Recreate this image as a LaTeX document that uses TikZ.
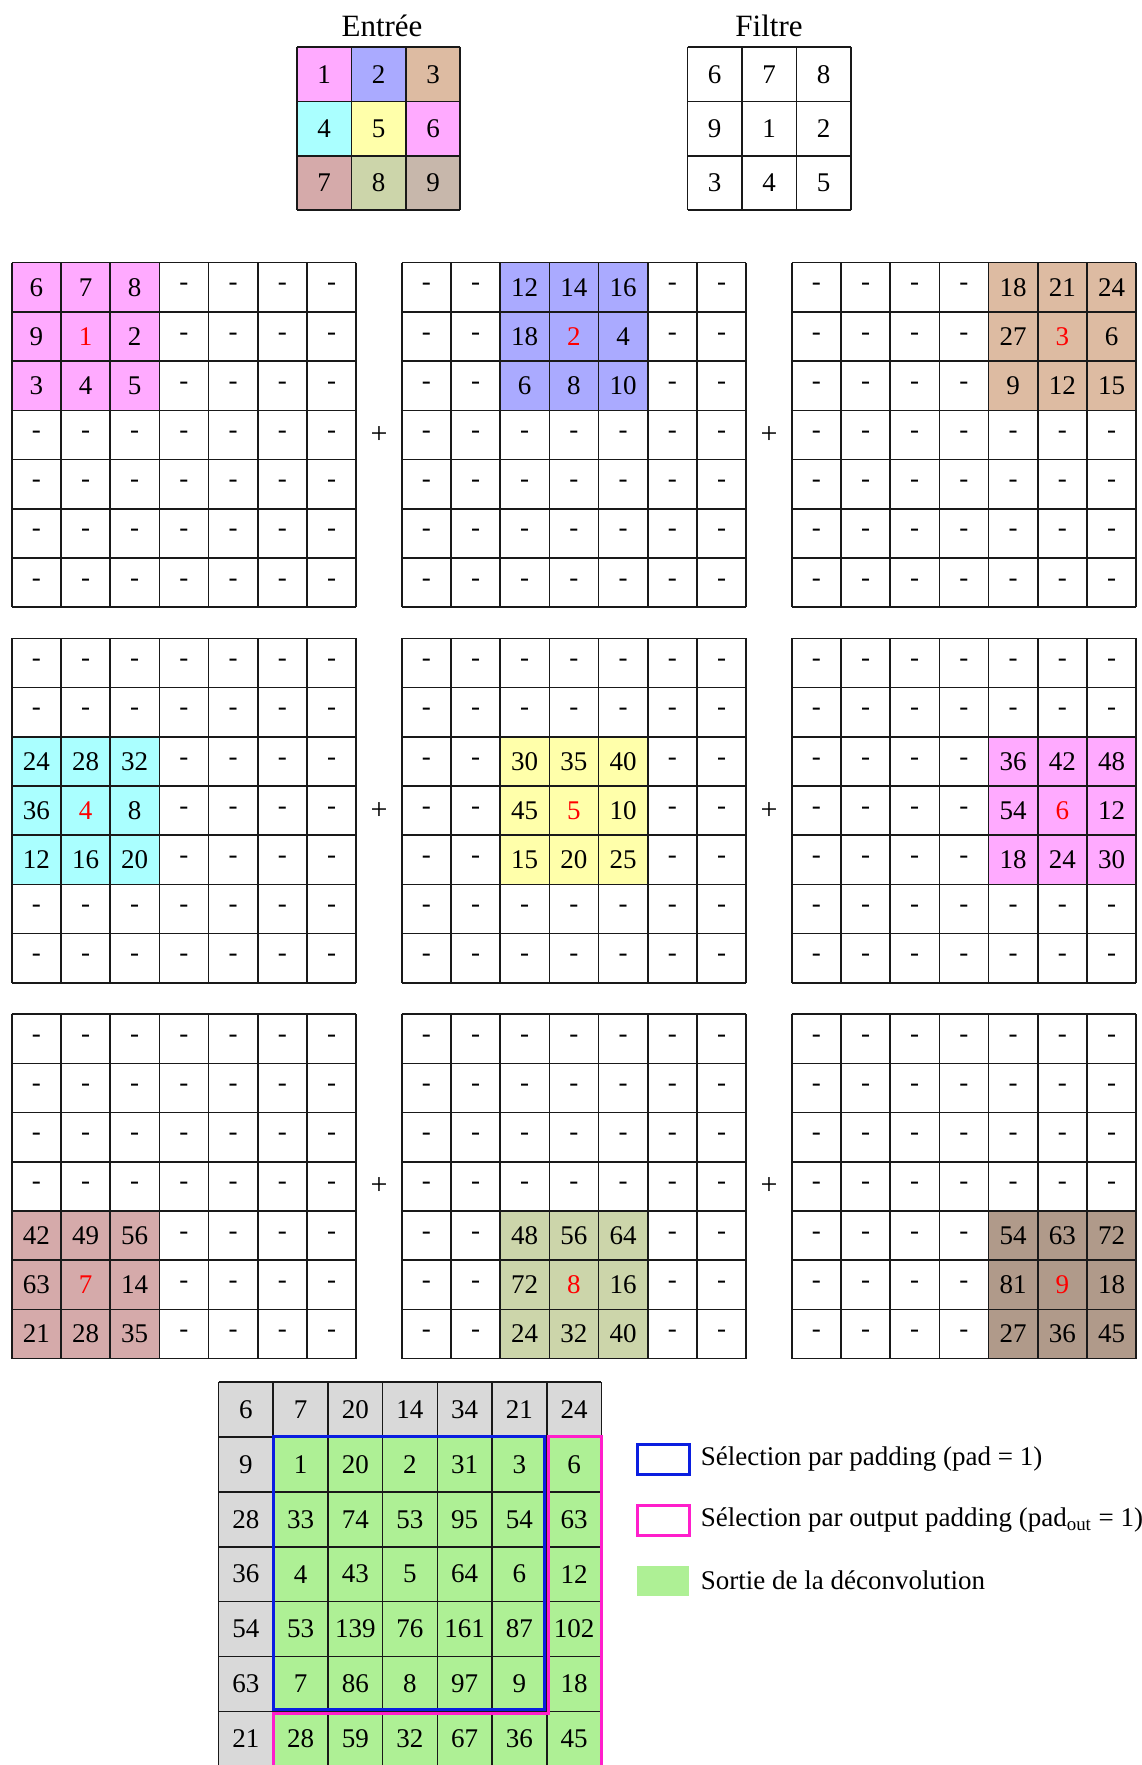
\documentclass[tikz,border=0pt]{standalone}
\usepackage{fontspec}
\setmainfont{Liberation Serif}
\usetikzlibrary{positioning}

\definecolor{rosePale}{HTML}{FFAAFF}
\definecolor{bleuPale}{HTML}{AAAAFF}
\definecolor{beige}{HTML}{DDBBA2}
\definecolor{cyanPale}{HTML}{AAFFFF}
\definecolor{jaunePale}{HTML}{FFFFAA}
\definecolor{vieuxRose}{HTML}{D5AAAA}
\definecolor{sauge}{HTML}{CCD5AA}
\definecolor{taupe}{HTML}{C7B7AB}
\definecolor{taupeFonce}{HTML}{B09A8A}
\definecolor{vertSortie}{HTML}{AEF095}
\definecolor{grisBord}{HTML}{D9D9D9}
\definecolor{bleuPad}{HTML}{0A1EE0}
\definecolor{rosePad}{HTML}{FF1ECB}

\tikzset{
  trait/.style={line width=0.8pt,draw=black!90},
  num/.style={font=\fontsize{13.5}{16}\selectfont,inner sep=0pt},
  titre/.style={font=\fontsize{15.5}{18}\selectfont,inner sep=0pt,anchor=base},
  legende/.style={font=\fontsize{13.5}{16}\selectfont,inner sep=0pt},
  boite/.style={minimum width=26pt,minimum height=15pt,inner sep=0pt,line width=1.5pt}
}

\begin{document}
\begin{tikzpicture}[x=0.5pt,y=-0.5pt]
  \useasboundingbox (0,0) rectangle (1141,1765);

  % entree et filtre
  \def\s{54.4}
  \node[titre] (tEntree) at (382,37) {Entrée};
  \node[titre] (tFiltre) at (769,37) {Filtre};
  \foreach \v/\col [count=\i from 0] in {1/rosePale,2/bleuPale,3/beige,4/cyanPale,5/jaunePale,6/rosePale,7/vieuxRose,8/sauge,9/taupe} {
    \pgfmathtruncatemacro{\rr}{div(\i,3)}
    \pgfmathtruncatemacro{\cc}{mod(\i,3)}
    \fill[\col] (297+\cc*\s,47+\rr*\s) rectangle ++(\s,\s);
    \node[num] (e-\rr-\cc) at (297+\cc*\s+\s/2,47+\rr*\s+\s/2) {\v};
  }
  \foreach \v [count=\i from 0] in {6,7,8,9,1,2,3,4,5} {
    \pgfmathtruncatemacro{\rr}{div(\i,3)}
    \pgfmathtruncatemacro{\cc}{mod(\i,3)}
    \node[num] (f-\rr-\cc) at (687.5+\cc*\s+\s/2,47+\rr*\s+\s/2) {\v};
  }
  \foreach \t in {0,...,3} {
    \draw[trait] (297+\t*\s,47) -- ++(0,3*\s);
    \draw[trait] (297,47+\t*\s) -- ++(3*\s,0);
    \draw[trait] (687.5+\t*\s,47) -- ++(0,3*\s);
    \draw[trait] (687.5,47+\t*\s) -- ++(3*\s,0);
  }

  % les neuf produits
  \def\pas{49.2}
  \def\filtre{{6,7,8,9,1,2,3,4,5}}
  \foreach \k/\gi/\gj/\col in {1/0/0/rosePale,2/0/1/bleuPale,3/0/2/beige,4/1/0/cyanPale,5/1/1/jaunePale,6/1/2/rosePale,7/2/0/vieuxRose,8/2/1/sauge,9/2/2/taupeFonce} {
    \pgfmathsetmacro{\gx}{11.7+390*\gj}
    \pgfmathsetmacro{\gy}{262.7+375.7*\gi}
    \fill[\col] (\gx+2*\gj*\pas,\gy+2*\gi*\pas) rectangle ++(3*\pas,3*\pas);
    \foreach \t in {0,...,7} {
      \draw[trait] (\gx+\t*\pas,\gy) -- ++(0,7*\pas);
      \draw[trait] (\gx,\gy+\t*\pas) -- ++(7*\pas,0);
    }
    \foreach \rr in {0,...,6} \foreach \cc in {0,...,6} {
      \pgfmathtruncatemacro{\dr}{\rr-2*\gi}
      \pgfmathtruncatemacro{\dc}{\cc-2*\gj}
      \pgfmathtruncatemacro{\dedans}{(\dr>=0)&&(\dr<=2)&&(\dc>=0)&&(\dc<=2)}
      \def\teinte{black}
      \ifnum\dedans=1
        \pgfmathtruncatemacro{\v}{\k*\filtre[3*\dr+\dc]}
        \ifnum\dr=1 \ifnum\dc=1 \def\teinte{red}\fi\fi
      \else
        \def\v{-}
      \fi
      \node[num,text=\teinte] (b\k-\rr-\cc) at (\gx+\cc*\pas+\pas/2,\gy+\rr*\pas+\pas/2) {\v};
    }
  }
  \foreach \gi in {0,1,2} \foreach \gj in {0,1} {
    \node[num,font=\fontsize{15}{18}\selectfont] (plus-\gi-\gj) at (379+390*\gj,262.7+375.7*\gi+3.5*\pas) {+};
  }

  % sortie
  \def\lo{54.7}
  \def\ho{54.9}
  \fill[grisBord] (218.5,1382) rectangle ++(7*\lo,7*\ho);
  \fill[vertSortie] (218.5+\lo,1382+\ho) rectangle ++(6*\lo,6*\ho);
  \foreach \t in {0,...,7} {
    \draw[trait] (218.5+\t*\lo,1382) -- ++(0,7*\ho);
    \draw[trait] (218.5,1382+\t*\ho) -- ++(7*\lo,0);
  }
  \foreach \ligne [count=\rr from 0] in {{6,7,20,14,34,21,24},{9,1,20,2,31,3,6},{28,33,74,53,95,54,63},{36,4,43,5,64,6,12},{54,53,139,76,161,87,102},{63,7,86,8,97,9,18},{21,28,59,32,67,36,45}} {
    \foreach \v [count=\cc from 0] in \ligne {
      \node[num] (s-\rr-\cc) at (218.5+\cc*\lo+\lo/2,1382+\rr*\ho+\ho/2) {\v};
    }
  }
  \draw[rosePad,line width=1.5pt] (218.5+\lo,1382+7*\ho) -- (218.5+\lo,1382+6*\ho+1.8)
    -- (218.5+6*\lo+1.8,1382+6*\ho+1.8) -- (218.5+6*\lo+1.8,1382+\ho)
    -- (218.5+7*\lo,1382+\ho) -- (218.5+7*\lo,1382+7*\ho);
  \draw[bleuPad,line width=1.5pt] (218.5+\lo,1382+\ho) rectangle (218.5+6*\lo-1.8,1382+6*\ho-1.8);

  % legende
  \node[boite,draw=bleuPad] (lgPad) at (663,1459) {};
  \node[boite,draw=rosePad] (lgOut) at (663,1520) {};
  \node[boite,fill=vertSortie] (lgSortie) at (663,1580.5) {};
  \node[legende,right=5pt of lgPad] (txtPad) {Sélection par padding (pad = 1)};
  \node[legende,right=5pt of lgOut] (txtOut) {Sélection par output padding (pad\textsubscript{out} = 1)};
  \node[legende,right=5pt of lgSortie] (txtSortie) {Sortie de la déconvolution};
\end{tikzpicture}
\end{document}
